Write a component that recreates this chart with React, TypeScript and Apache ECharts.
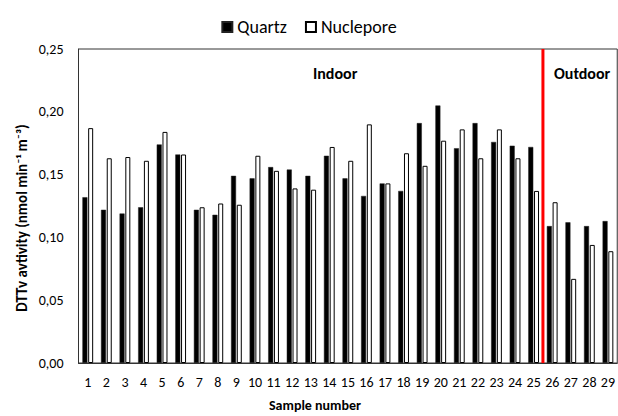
import React, { useEffect, useRef } from "react";
import * as echarts from "echarts";

const categories = ["1","2","3","4","5","6","7","8","9","10","11","12","13","14","15","16","17","18","19","20","21","22","23","24","25","26","27","28","29"];
const quartz = [0.132,0.122,0.119,0.124,0.174,0.166,0.122,0.118,0.149,0.147,0.156,0.154,0.149,0.165,0.147,0.133,0.143,0.137,0.191,0.205,0.171,0.191,0.176,0.173,0.172,0.109,0.112,0.109,0.113];
const nuclepore = [0.187,0.163,0.164,0.161,0.184,0.166,0.124,0.127,0.126,0.165,0.153,0.139,0.138,0.172,0.161,0.190,0.143,0.167,0.157,0.177,0.186,0.163,0.186,0.163,0.137,0.128,0.067,0.094,0.089];
const dividerAt = 25.5;
const yTicks = [0, 0.05, 0.1, 0.15, 0.2, 0.25];

const FONT = "Carlito, Lato, 'Open Sans', sans-serif";

export default function App() {
  const ref = useRef<HTMLDivElement>(null);
  useEffect(() => {
    document.body.style.margin = "0";
    const chart = echarts.init(ref.current!, null, { renderer: "svg" });
    chart.setOption({
      animation: false,
      textStyle: { fontFamily: FONT },
      legend: {
        top: 13,
        left: "center",
        itemWidth: 10,
        itemHeight: 10,
        itemGap: 18,
        textStyle: { fontSize: 18, color: "#000", fontFamily: FONT },
        data: [
          { name: "Quartz", icon: "rect" },
          { name: "Nuclepore", icon: "rect" },
        ],
      },
      grid: {
        left: 78.5,
        top: 49,
        width: 542,
        height: 314,
        show: true,
        borderColor: "#333",
        borderWidth: 1,
        containLabel: false,
      },
      xAxis: [
        {
          type: "category",
          data: categories,
          axisLine: { lineStyle: { color: "#333", width: 1 } },
          axisTick: { show: false },
          axisLabel: { interval: 0, fontSize: 14, color: "#000", margin: 12, fontFamily: FONT },
        },
        {
          type: "value",
          min: 0.5,
          max: 29.5,
          show: false,
        },
      ],
      yAxis: {
        type: "value",
        min: 0,
        max: 0.25,
        interval: 0.05,
        axisLine: { show: true, lineStyle: { color: "#333", width: 1 } },
        axisTick: { show: false },
        splitLine: { show: false },
        axisLabel: {
          fontSize: 14,
          color: "#000",
          margin: 15,
          fontFamily: FONT,
          formatter: (v: number) => {
            const t = yTicks.find((x) => Math.abs(x - v) < 1e-9);
            return (t ?? v).toFixed(2).replace(".", ",");
          },
        },
      },
      series: [
        {
          name: "Quartz",
          type: "bar",
          data: quartz,
          barWidth: 5,
          barGap: "15%",
          itemStyle: { color: "#000", borderColor: "#222", borderWidth: 0.5 },
        },
        {
          name: "Nuclepore",
          type: "bar",
          data: nuclepore,
          barWidth: 5,
          itemStyle: { color: "#fff", borderColor: "#000", borderWidth: 1 },
        },
        {
          name: "divider",
          type: "line",
          xAxisIndex: 1,
          data: [[dividerAt, 0], [dividerAt, 0.25]],
          symbol: "none",
          lineStyle: { color: "#ff0000", width: 3 },
          silent: true,
          z: 5,
        },
      ],
      graphic: [
        {
          type: "text",
          left: 313,
          top: 65,
          style: { text: "Indoor", fontSize: 16, fontWeight: "bold", fill: "#000", fontFamily: FONT },
        },
        {
          type: "text",
          left: 554,
          top: 65,
          style: { text: "Outdoor", fontSize: 16, fontWeight: "bold", fill: "#000", fontFamily: FONT },
        },
        {
          type: "text",
          x: 315,
          y: 405,
          style: {
            text: "Sample number",
            fontSize: 14,
            fontWeight: "bold",
            fill: "#000",
            align: "center",
            verticalAlign: "middle",
            fontFamily: FONT,
          },
        },
        {
          type: "text",
          x: 22,
          y: 218,
          rotation: Math.PI / 2,
          style: {
            text: "DTTv avtivity (nmol min⁻¹ m⁻³)",
            fontSize: 15,
            fontWeight: "bold",
            fill: "#000",
            align: "center",
            verticalAlign: "middle",
            fontFamily: FONT,
          },
        },
      ],
    });
    return () => chart.dispose();
  }, []);
  return <div ref={ref} style={{ width: 618, height: 416 }} />;
}
